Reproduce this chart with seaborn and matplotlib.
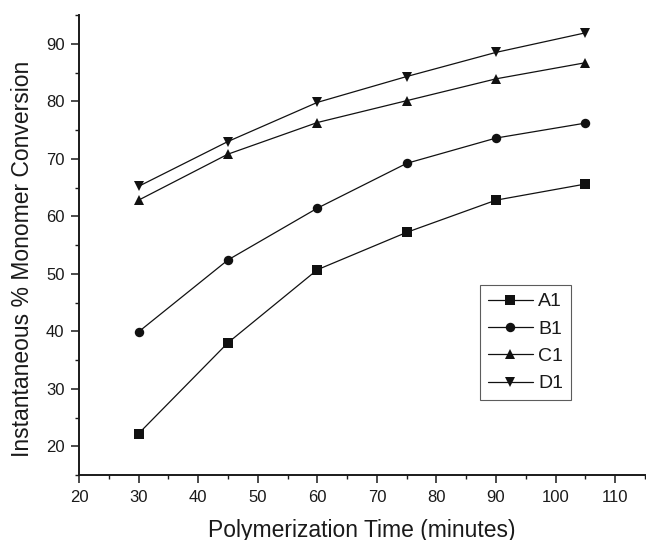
import matplotlib
matplotlib.use("Agg")
import matplotlib.pyplot as plt
from matplotlib.ticker import MultipleLocator
from matplotlib.lines import Line2D
import seaborn as sns
import pandas as pd

time_min = [30, 45, 60, 75, 90, 105]
A1 = [22.2, 38.0, 50.7, 57.2, 62.8, 65.6]
B1 = [39.9, 52.4, 61.4, 69.2, 73.6, 76.2]
C1 = [62.8, 70.8, 76.3, 80.1, 83.9, 86.7]
D1 = [65.2, 73.0, 79.8, 84.3, 88.5, 91.9]
series_names = ["A1", "B1", "C1", "D1"]
series_values = [A1, B1, C1, D1]
x_ticks = [20, 30, 40, 50, 60, 70, 80, 90, 100, 110]
y_ticks = [20, 30, 40, 50, 60, 70, 80, 90]

rows = []
for name, vals in zip(series_names, series_values):
    for t, v in zip(time_min, vals):
        rows.append({"time": t, "conv": v, "sample": name})
df = pd.DataFrame(rows)

sns.set_style("ticks")
plt.rcParams["font.family"] = ["Liberation Sans", "DejaVu Sans"]

fig = plt.figure(figsize=(6.46, 5.40), dpi=100)
ax = fig.add_axes([79/646, 1-475/540, (645-79)/646, (475-15)/540])

markers = {"A1": "s", "B1": "o", "C1": "^", "D1": "v"}
sns.lineplot(data=df, x="time", y="conv", hue="sample", style="sample",
             markers=markers, dashes=False, palette=["#111111"]*4,
             markersize=6.8, linewidth=0.9, markeredgewidth=0,
             ax=ax, legend=False)

ax.set_xlim(20, 115)
ax.set_ylim(15, 95)
ax.set_xticks(x_ticks)
ax.set_yticks(y_ticks)
ax.xaxis.set_minor_locator(MultipleLocator(5))
ax.yaxis.set_minor_locator(MultipleLocator(5))
ax.tick_params(which="major", length=5.5, width=1.1, direction="out",
               labelsize=12, pad=5, colors="#1a1a1a")
ax.tick_params(which="minor", length=2.8, width=1.0, direction="out", colors="#1a1a1a")
for s in ["top", "right"]:
    ax.spines[s].set_visible(False)
for s in ["left", "bottom"]:
    ax.spines[s].set_linewidth(1.4)
    ax.spines[s].set_color("#1a1a1a")

ax.set_xlabel("Polymerization Time (minutes)", fontsize=16.5, color="#1a1a1a")
ax.set_ylabel("Instantaneous % Monomer Conversion", fontsize=16.5, color="#1a1a1a")
ax.xaxis.set_label_coords(0.5, (475-530)/460, transform=ax.transAxes)
ax.yaxis.set_label_coords((22.5-79)/566, (475-259)/460, transform=ax.transAxes)
ax.xaxis.label.set_va("center")
ax.yaxis.label.set_va("center")

handles = [Line2D([], [], color="#111111", linewidth=0.9, marker=markers[n],
                  markersize=6.8, markeredgewidth=0) for n in series_names]
leg = ax.legend(handles, series_names, loc="upper left",
                bbox_to_anchor=((480-79)/566, (475-285)/460),
                frameon=True, fancybox=False, fontsize=14,
                handlelength=2.3, handletextpad=0.3, labelspacing=0.5,
                borderpad=0.4, borderaxespad=0, markerscale=1.0)
leg.get_frame().set_edgecolor("#333333")
leg.get_frame().set_linewidth(0.8)
for t in leg.get_texts():
    t.set_color("#1a1a1a")

fig.savefig("out.png", dpi=100)
